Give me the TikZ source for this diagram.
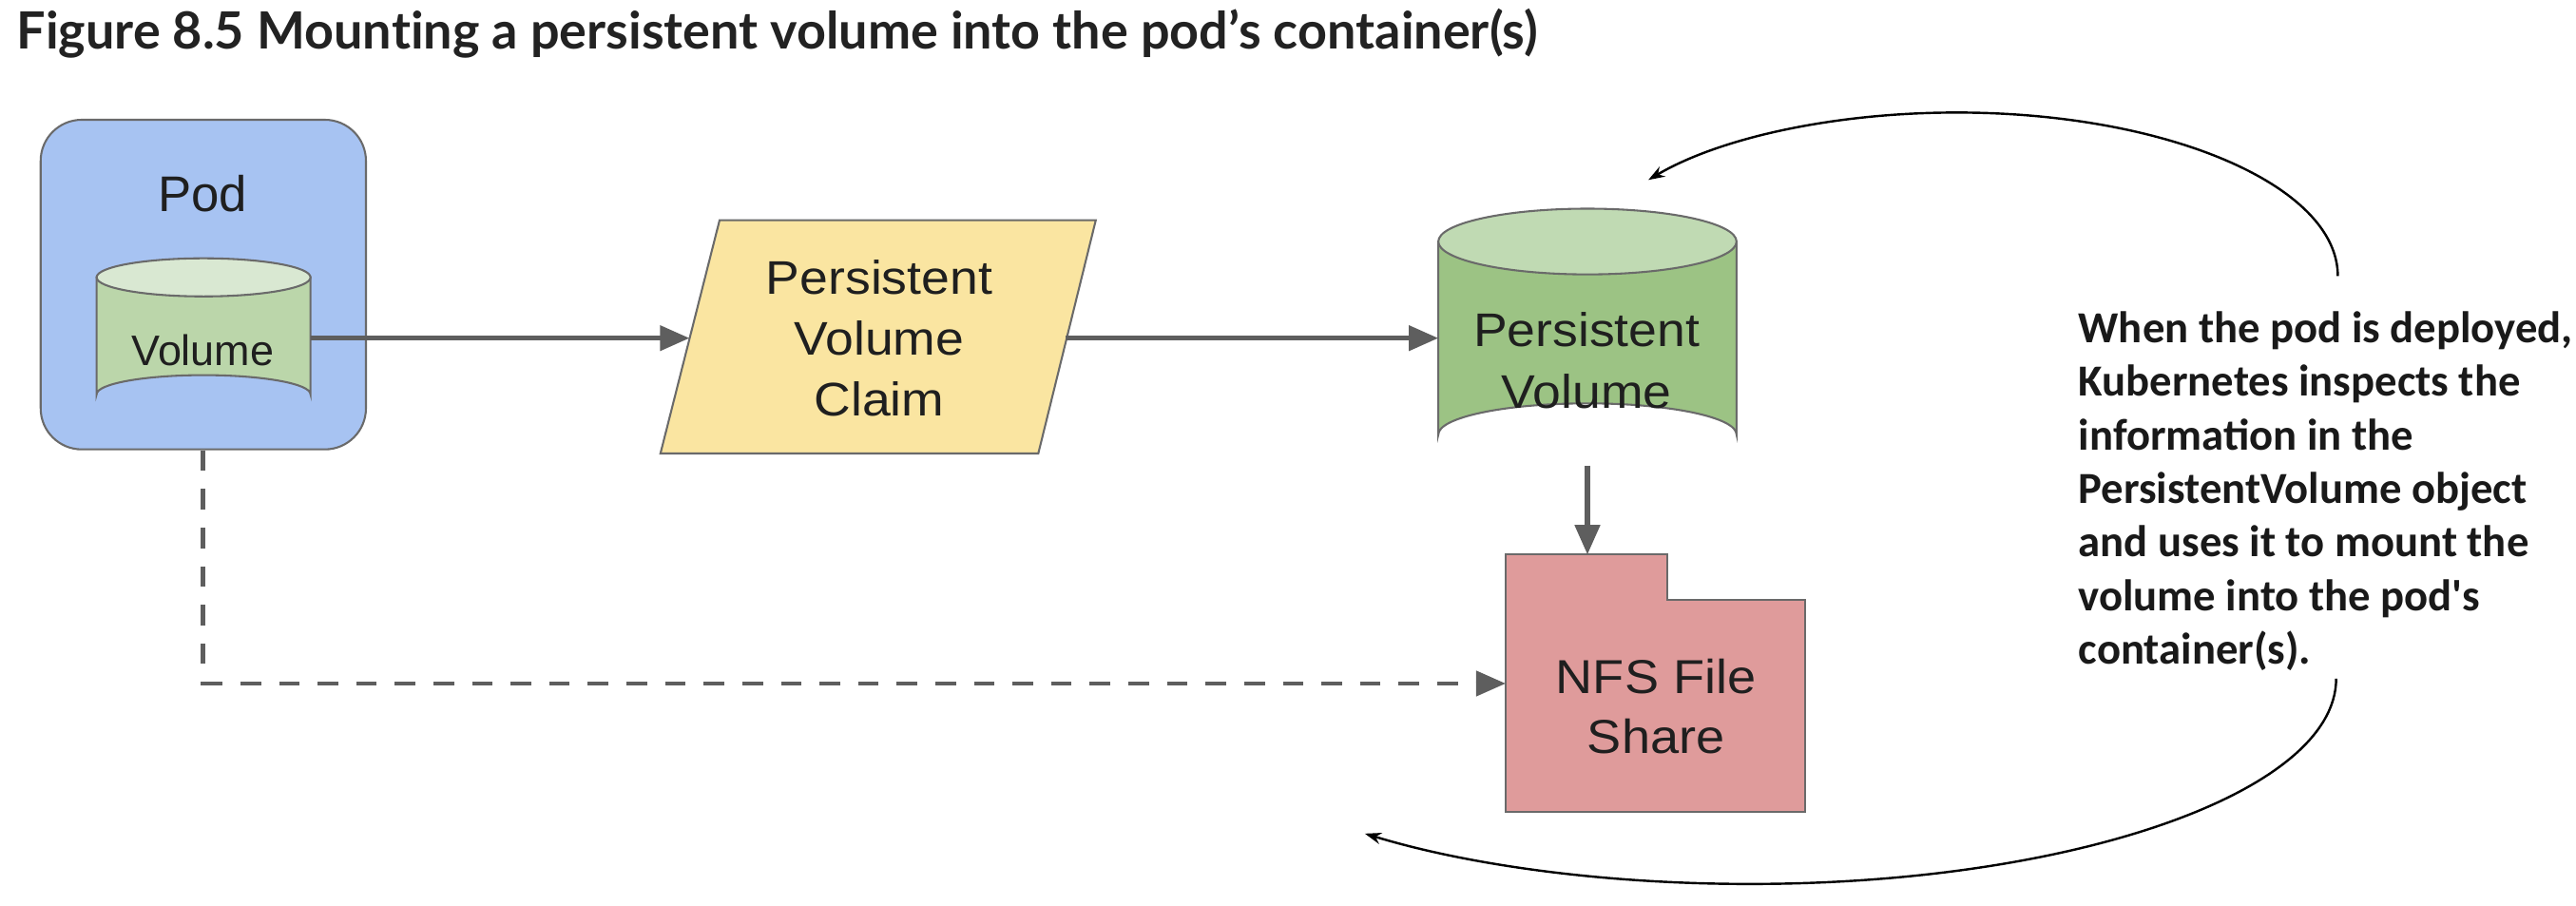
\documentclass[tikz,border=0pt]{standalone}
\usepackage{fontspec}
\setmainfont{Liberation Sans}
\newfontfamily\boxfont{Liberation Sans}[FakeStretch=1.08]
\newfontfamily\titlefont{Lato}[BoldFont={Lato Bold}, Ligatures=NoCommon]
\newfontfamily\notefont{Carlito}
\usetikzlibrary{arrows.meta}
\definecolor{podblue}{HTML}{A7C3F2}
\definecolor{volbody}{HTML}{BBD6AA}
\definecolor{voltop}{HTML}{D9E8D2}
\definecolor{pvcyellow}{HTML}{FAE5A1}
\definecolor{pvbody}{HTML}{9CC384}
\definecolor{pvtop}{HTML}{C0DAB3}
\definecolor{nfsred}{HTML}{DF9B9B}
\definecolor{edgegray}{HTML}{6A6A6A}
\definecolor{arrowgray}{HTML}{5E5E5E}
\definecolor{titlegray}{HTML}{222222}
\tikzset{
  shapeline/.style={draw=edgegray, line width=1.2pt},
  boxlabel/.style={font=\boxfont\fontsize{28.7}{37}\selectfont, align=center, inner sep=0pt, text=black!88},
  podlabelstyle/.style={font=\fontsize{30.5}{36}\selectfont, align=center, inner sep=0pt, text=black!88},
  vollabelstyle/.style={font=\fontsize{26}{30}\selectfont, align=center, inner sep=0pt, text=black!88},
  flow/.style={draw=arrowgray, line width=3pt, -{Triangle[length=18pt,width=15pt]}},
  dashflow/.style={draw=arrowgray, line width=2.8pt, dash pattern=on 12.5pt off 11pt, -{Triangle[length=18pt,width=15pt]}},
  curvearrow/.style={draw=black, line width=1.4pt, -{Stealth[length=10pt,width=7pt]}},
}
\begin{document}
\begin{tikzpicture}[x=1pt,y=-1pt]
\useasboundingbox (0,0) rectangle (1568,551);
% title
\node[anchor=base west, inner sep=0pt, font=\titlefont\bfseries\fontsize{31.2}{36}\selectfont, text=titlegray] (title) at (10,29.9) {Figure 8.5 Mounting a persistent volume into the pod’s container(s)};
% pod
\node[shapeline, fill=podblue, rounded corners=25pt, minimum width=198pt, minimum height=200.6pt, inner sep=0pt] (pod) at (123.75,173.2) {};
\node[podlabelstyle] (podlabel) at (123.3,117.7) {Pod};
% volume cylinder
\path[shapeline, fill=volbody] (58.8,168.8) -- (58.8,240) arc[start angle=180, end angle=360, x radius=65.1, y radius=11.7] -- (189,168.8) -- cycle;
\path[shapeline, fill=voltop] (123.9,168.8) ellipse[x radius=65.1, y radius=11.6];
\node[vollabelstyle] (vol) at (123.5,213) {Volume};
\coordinate (volR) at (189,205.8);
% PVC parallelogram
\path[shapeline, fill=pvcyellow] (438,134) -- (667,134) -- (632,276) -- (402,276) -- cycle;
\node[boxlabel] (pvc) at (535.2,205.8) {Persistent\\Volume\\Claim};
\coordinate (pvcL) at (419.7,205.8);
\coordinate (pvcR) at (648.7,205.8);
% PV cylinder
\path[shapeline, fill=pvbody] (875.5,147) -- (875.5,264.5) arc[start angle=180, end angle=360, x radius=90.75, y radius=19] -- (1057,147) -- cycle;
\path[shapeline, fill=pvtop] (966.25,147) ellipse[x radius=90.75, y radius=20];
\node[boxlabel, font=\boxfont\fontsize{28.7}{38}\selectfont] (pv) at (965.8,219.4) {Persistent\\Volume};
\coordinate (pvL) at (875.5,205.8);
\coordinate (pvB) at (966.25,283.5);
% NFS
\path[shapeline, fill=nfsred] (916.5,337.5) -- (1014.6,337.5) -- (1014.6,365) -- (1099,365) -- (1099,494) -- (916.5,494) -- cycle;
\node[boxlabel, font=\boxfont\fontsize{29}{36.6}\selectfont] (nfs) at (1008,430.1) {NFS File\\Share};
\coordinate (nfsT) at (966.25,337.5);
\coordinate (nfsL) at (916.5,416);
% connectors
\draw[flow] (volR) -- (pvcL);
\draw[flow] (pvcR) -- (pvL);
\draw[flow] (pvB) -- (nfsT);
\coordinate (dashcorner) at (pod.south |- nfsL);
\draw[dashflow] (pod.south) -- (dashcorner) -- (nfsL);
% note
\node[anchor=north west, inner sep=0pt, align=left, font=\notefont\bfseries\fontsize{27}{32.6}\selectfont, text=black!90] (note) at (1265,189.5) {When the pod is deployed,\\Kubernetes inspects the\\information in the\\PersistentVolume object\\and uses it to mount the\\volume into the pod\textquotesingle s\\container(s).};
\coordinate (topstart) at (1423,168);
\coordinate (botstart) at (1422,413);
\draw[curvearrow] (topstart) arc[start angle=0, end angle=-144, x radius=232, y radius=99.5];
\draw[curvearrow] (botstart) arc[start angle=0, end angle=131, x radius=357, y radius=125];
\end{tikzpicture}
\end{document}
